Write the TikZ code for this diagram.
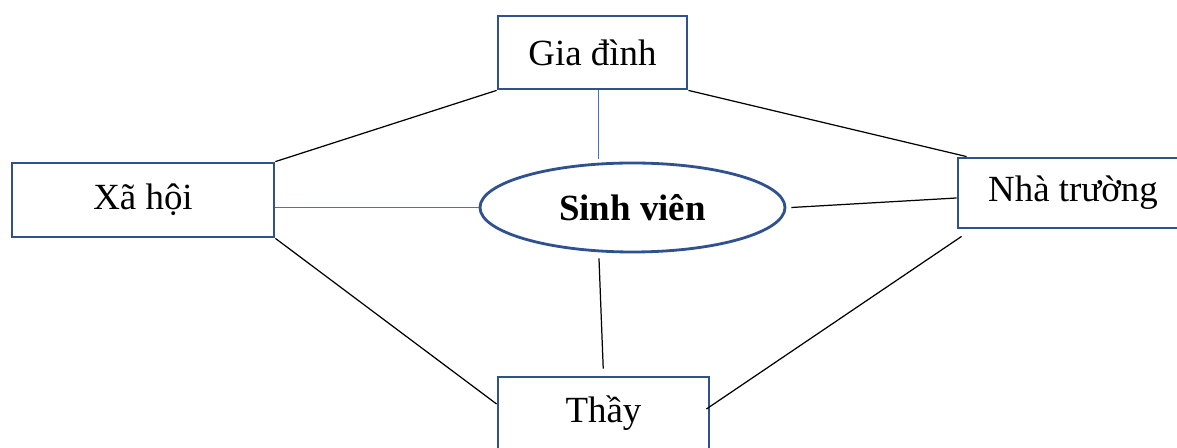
\documentclass[tikz,border=0pt]{standalone}
\usepackage{fontspec}
\setmainfont{Liberation Serif}
\usetikzlibrary{shapes.geometric}
\definecolor{boxblue}{RGB}{47,82,143}
\definecolor{lineblue}{RGB}{68,114,196}

\begin{document}
\begin{tikzpicture}[
  font=\fontsize{21}{25}\selectfont,
  bigbox/.style={rectangle, draw=boxblue, fill=white, line width=1.6pt,
                 inner sep=0pt},
  bigellipse/.style={ellipse, draw=boxblue, fill=white, line width=1.6pt,
                     minimum width=6.1cm, minimum height=1.78cm, inner sep=0pt,
                     font=\fontsize{21}{25}\selectfont\bfseries},
  blueline/.style={lineblue, line width=0.8pt},
  blackline/.style={black, line width=0.7pt}
]
  \useasboundingbox (0,0) rectangle (23.54,-8.96);

  % the four boxes round the student
  \node[bigbox, minimum width=3.78cm, minimum height=1.46cm] (gia) at (11.85,-1.05) {Gia đình};
  \node[bigbox, minimum width=5.24cm, minimum height=1.48cm] (xahoi) at (2.86,-4.0) {Xã hội};
  \node[bigbox, minimum width=4.6cm, minimum height=1.4cm] (truong) at (21.46,-3.86) {Nhà trường};
  \node[bigbox, minimum width=4.22cm, minimum height=1.44cm] (thay) at (12.07,-8.26) {Thầy};

  \node[bigellipse] (sv) at (12.65,-4.15) {Sinh viên};

  % spokes to the centre
  \draw[blueline, shorten >=0.08cm] (gia.south -| sv.127) -- (sv.127);
  \draw[blueline] (sv.west -| xahoi.east) -- (sv.west);
  \draw[blackline] ([xshift=0.1cm]sv.east) -- ([yshift=-0.1cm]truong.west);
  \draw[blackline, shorten <=0.12cm, shorten >=0.14cm] (sv.-127) -- (thay.north);

  % outer ring
  \draw[blackline] (gia.south west) -- (xahoi.north east);
  \draw[blackline] (gia.south east) -- ([xshift=0.2cm]truong.north west);
  \draw[blackline] (xahoi.south east) -- ([yshift=0.18cm]thay.west);
  \draw[blackline] ([xshift=0.1cm,yshift=-0.14cm]truong.south west) -- ([xshift=-0.08cm,yshift=0.08cm]thay.east);
\end{tikzpicture}
\end{document}
